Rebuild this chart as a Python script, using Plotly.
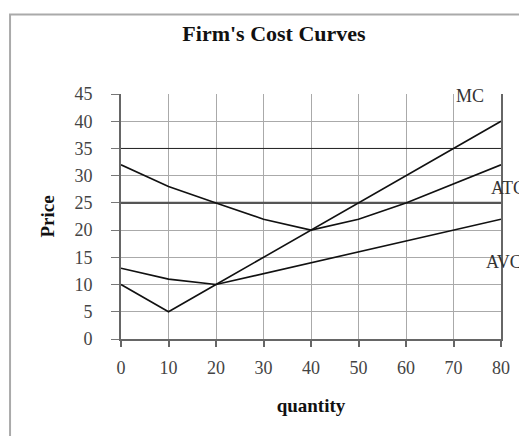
import plotly.graph_objects as go

quantity = [0, 10, 20, 30, 40, 50, 60, 70, 80]
mc = [10, 5, 10, 15, 20, 25, 30, 35, 40]
atc = [32, 28, 25, 22, 20, 22, 25, 28.5, 32]
avc = [13, 11, 10, 12, 14, 16, 18, 20, 22]
price_levels = [35, 25]
x_ticks = [0, 10, 20, 30, 40, 50, 60, 70, 80]
y_ticks = [0, 5, 10, 15, 20, 25, 30, 35, 40, 45]

FONT = "Liberation Serif"

fig = go.Figure()

# price reference lines
fig.add_trace(go.Scatter(x=[0, 80], y=[price_levels[0]] * 2, mode="lines",
                         line=dict(color="#222", width=1), showlegend=False, hoverinfo="skip"))
fig.add_trace(go.Scatter(x=[0, 80], y=[price_levels[1]] * 2, mode="lines",
                         line=dict(color="#555", width=2.2), showlegend=False, hoverinfo="skip"))

for name, ys in [("MC", mc), ("ATC", atc), ("AVC", avc)]:
    fig.add_trace(go.Scatter(x=quantity, y=ys, mode="lines", name=name,
                             line=dict(color="#111", width=1.6), showlegend=False))

labels = [("MC", 70.3, 44.6), ("ATC", 77.7, 27.7), ("AVC", 76.6, 14.1)]
for txt, lx, ly in labels:
    fig.add_annotation(x=lx, y=ly, text=txt, showarrow=False, xanchor="left", yanchor="middle",
                       font=dict(family=FONT, size=18, color="#333"), borderpad=0)

# outer frame (left and top edges visible; the rest falls outside the window)
fig.add_shape(type="rect", xref="paper", yref="paper", x0=-0.292, x1=1.25, y0=-0.5, y1=1.325,
              line=dict(color="#aaa", width=2), layer="below")

# note: page body has an 8px margin, so figure coords = page coords - 8
fig.update_layout(
    width=527, height=436,
    margin=dict(l=113, r=34, t=86, b=105),
    paper_bgcolor="white", plot_bgcolor="white",
    title=dict(text="<b>Firm's Cost Curves</b>", x=266 / 527, xref="container", xanchor="center",
               y=1 - 25 / 436, yref="container", yanchor="middle",
               font=dict(family=FONT, size=22, color="#111")),
    xaxis=dict(range=[0, 80], tickvals=x_ticks, showgrid=True, gridcolor="#aaa", gridwidth=1,
               showline=True, linecolor="#666", linewidth=2, ticks="outside", ticklen=6,
               tickcolor="#666", tickwidth=1.5, zeroline=False, ticklabelstandoff=5,
               tickfont=dict(family=FONT, size=18, color="#444"),
               title=dict(text="<b>quantity</b>", font=dict(family=FONT, size=19, color="#111"), standoff=22)),
    yaxis=dict(range=[0, 45], tickvals=y_ticks, showgrid=True, gridcolor="#aaa", gridwidth=1,
               showline=True, linecolor="#666", linewidth=2, mirror=True, ticks="outside", ticklen=8,
               tickcolor="#777", tickwidth=1.2, zeroline=False, ticklabelstandoff=15,
               tickfont=dict(family=FONT, size=18, color="#444"),
               title=dict(text="<b>Price</b>", font=dict(family=FONT, size=19, color="#111"), standoff=15)),
)

fig.write_html("out.html")
